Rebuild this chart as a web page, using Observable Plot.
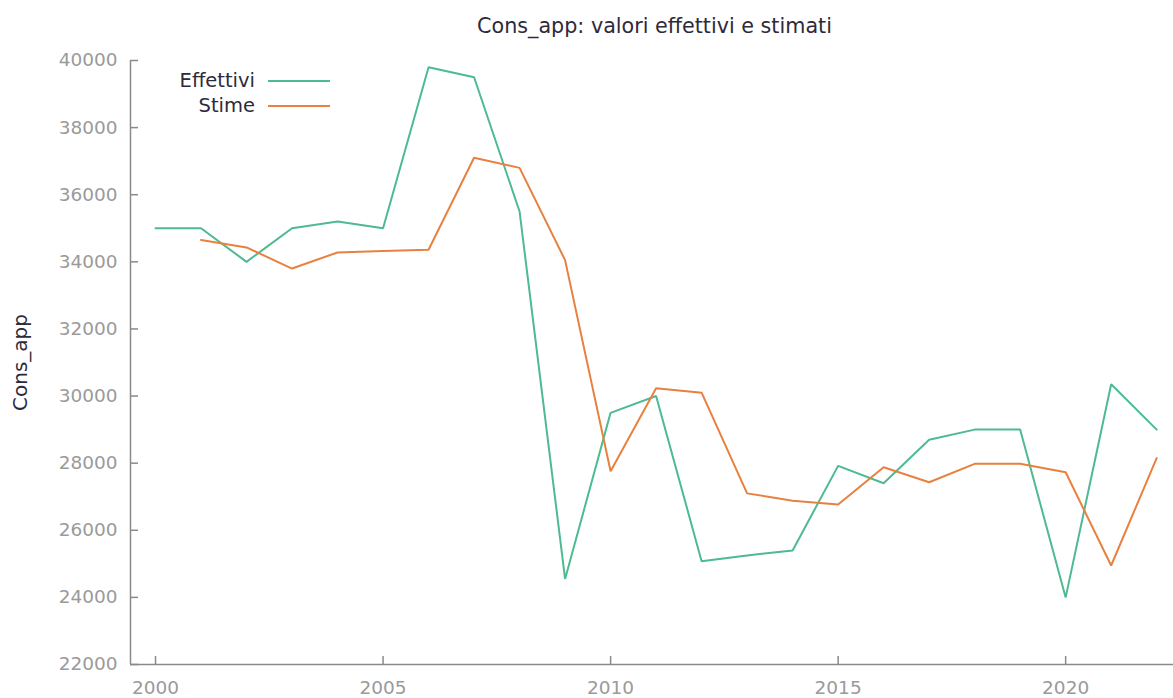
<!DOCTYPE html>
<html>
<head>
<meta charset="utf-8">
<script src="https://cdn.jsdelivr.net/npm/d3@7"></script>
<script src="https://cdn.jsdelivr.net/npm/@observablehq/plot@0.6"></script>
<style>
  html, body { margin: 0; padding: 0; background: #fff; }
  #wrap { position: relative; width: 1173px; height: 698px; font-family: "DejaVu Sans", sans-serif; }
  #title { position: absolute; left: 0; width: 1173px; top: 14px; padding-left: 136px; box-sizing: border-box;
           text-align: center; font-size: 20.7px; color: #2e2a3a; }
  .leg { position: absolute; display: flex; align-items: center; font-size: 19.5px; color: #2e2a3a; }
  .leg span { display: inline-block; width: 85px; text-align: right; margin-right: 13px; }
  .leg i { display: inline-block; width: 62px; height: 0; border-top: 2px solid; }
</style>
</head>
<body>
<div id="wrap">
  <div id="chart"></div>
  <div id="title">Cons_app: valori effettivi e stimati</div>
  <div id="legend"></div>
</div>
<script>
// Annual values of Cons_app: observed series and model estimates
const years = [2000, 2001, 2002, 2003, 2004, 2005, 2006, 2007, 2008, 2009, 2010, 2011,
               2012, 2013, 2014, 2015, 2016, 2017, 2018, 2019, 2020, 2021, 2022];
const effettivi = [35000, 35000, 34000, 35000, 35200, 35000, 39800, 39500, 35500, 24550, 29500, 30000,
                   25080, 25250, 25400, 27920, 27400, 28700, 29000, 29000, 24000, 30350, 29000];
const stime = [null, 34650, 34430, 33800, 34280, 34320, 34360, 37100, 36800, 34050, 27760, 30230,
               30100, 27100, 26880, 26770, 27880, 27430, 27980, 27980, 27730, 24950, 28150];
const yTicks = [22000, 24000, 26000, 28000, 30000, 32000, 34000, 36000, 38000, 40000];
const xTicks = [2000, 2005, 2010, 2015, 2020];
const seriesNames = ["Effettivi", "Stime"];
const seriesColors = ["#4dba92", "#e8813f"];

const rows = [];
years.forEach((yr, i) => {
  rows.push({year: yr, value: effettivi[i], series: seriesNames[0]});
  if (stime[i] != null) rows.push({year: yr, value: stime[i], series: seriesNames[1]});
});

const axisColor = "#8a8a8a";
const labelColor = "#9a9a9a";
const xDomain = [1999.45, 2022.37];
const yDomain = [22000, 40000];

const chart = Plot.plot({
  width: 1173,
  height: 698,
  marginLeft: 130,
  marginRight: 0,
  marginTop: 60,
  marginBottom: 34,
  style: {fontFamily: "DejaVu Sans, sans-serif", background: "#fff"},
  x: {domain: xDomain},
  y: {domain: yDomain},
  color: {domain: seriesNames, range: seriesColors},
  marks: [
    // tick labels
    Plot.axisY({ticks: yTicks, tickSize: 0, tickPadding: 13, tickFormat: d => String(d),
                fontSize: 18.5, fill: labelColor, label: null}),
    Plot.axisX({ticks: xTicks, tickSize: 0, tickPadding: 16, tickFormat: d => String(d),
                fontSize: 18.5, fill: labelColor, label: null}),
    // inward tick marks
    Plot.axisY({ticks: yTicks, tickSize: 8, dx: 8, text: null, stroke: axisColor, strokeWidth: 1.5, label: null}),
    Plot.axisX({ticks: xTicks, tickSize: 8, dy: -8, text: null, stroke: axisColor, strokeWidth: 1.5, label: null}),
    // axis lines
    Plot.ruleX([xDomain[0]], {stroke: axisColor, strokeWidth: 1.5}),
    Plot.ruleY([yDomain[0]], {stroke: axisColor, strokeWidth: 1.5}),
    // y axis title
    Plot.text(["Cons_app"], {frameAnchor: "left", dx: -110, rotate: -90, fontSize: 20,
                             fill: "#2e2a3a", textAnchor: "middle"}),
    // series
    Plot.line(rows, {x: "year", y: "value", z: "series", stroke: "series", strokeWidth: 2,
                     strokeLinejoin: "miter"})
  ]
});
document.getElementById("chart").appendChild(chart);

// legend in the upper-left corner of the plot area
const legend = document.getElementById("legend");
seriesNames.forEach((name, i) => {
  const row = document.createElement("div");
  row.className = "leg";
  row.style.left = "170px";
  row.style.top = (69 + i * 25) + "px";
  row.innerHTML = `<span>${name}</span><i style="border-color:${seriesColors[i]}"></i>`;
  legend.appendChild(row);
});
</script>
</body>
</html>
